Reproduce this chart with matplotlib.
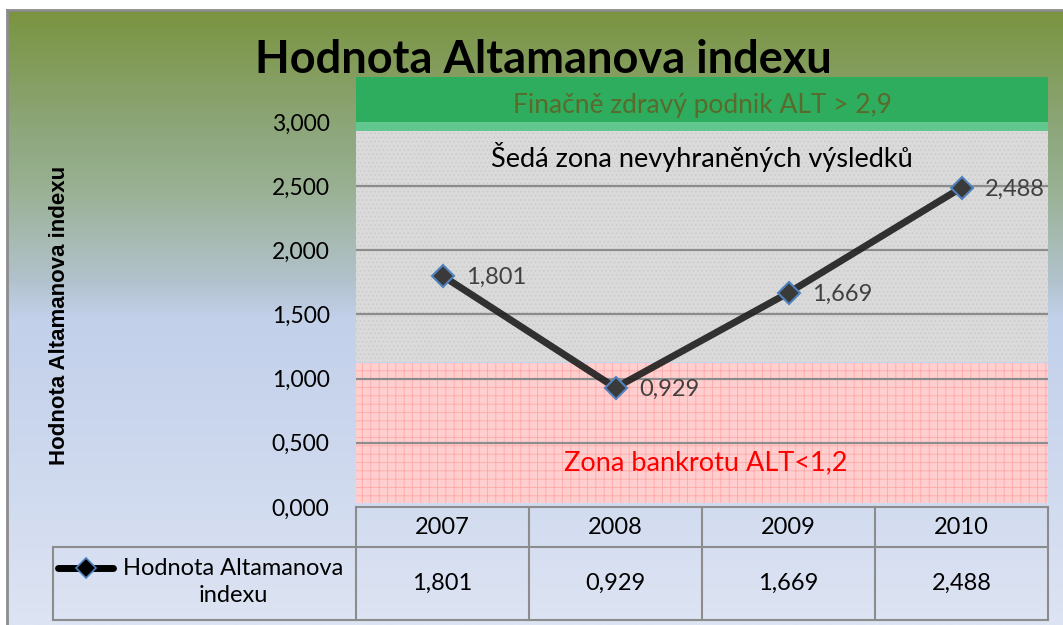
import numpy as np
import matplotlib
matplotlib.use("Agg")
import matplotlib.pyplot as plt
from matplotlib.colors import LinearSegmentedColormap

# data
years = ["2007", "2008", "2009", "2010"]
alt_index = [1.801, 0.929, 1.669, 2.488]
series_name = "Hodnota Altamanova indexu"
zone_labels = ["Finačně zdravý podnik ALT > 2,9",
               "Šedá zona nevyhraněných výsledků",
               "Zona bankrotu ALT<1,2"]

def cz(v):
    return f"{v:.3f}".replace(".", ",")

plt.rcParams['font.family'] = ['Lato', 'DejaVu Sans']
plt.rcParams['hatch.linewidth'] = 0.6

fig = plt.figure(figsize=(10.63, 6.25), dpi=100)

# background gradient (green -> light blue)
bg = fig.add_axes([7/1063, 0, 1 - 7/1063, 615/625], zorder=-5)
cmap = LinearSegmentedColormap.from_list("bg", [
    (0.0, "#7A9440"), (0.21, "#8FA880"), (0.28, "#98B090"),
    (0.44, "#B2C2CC"), (0.50, "#C2D0EA"), (0.72, "#CDD8EE"),
    (1.0, "#DDE4F3")])
bg.imshow(np.linspace(0, 1, 256).reshape(-1, 1), cmap=cmap, aspect="auto",
          extent=[0, 1, 0, 1])
bg.set_xticks([])
bg.set_yticks([])
for s in ["right", "bottom"]:
    bg.spines[s].set_visible(False)
for s in ["top", "left"]:
    bg.spines[s].set_color("#8C8C8C")
    bg.spines[s].set_linewidth(2)

# main plot area
W, H = 692.0, 430.0
ax = fig.add_axes([356/1063, (625-507)/625, W/1063, H/625])
ax.set_facecolor("none")
ax.set_xlim(-0.5, 3.5)
ax.set_ylim(0, 3.35)

# zones
ax.axhspan(3.0, 3.35, color="#2EAD5E", zorder=0.5, lw=0)
ax.axhspan(2.93, 3.0, color="#62C78F", zorder=0.5, lw=0)
ax.axhspan(1.13, 2.93, facecolor="#DADADA", edgecolor="#CACACA", hatch="....",
           zorder=0.5, lw=0)
ax.axhspan(0.03, 1.12, facecolor="#FFCFCF", edgecolor="#FFA8A8", hatch="++",
           zorder=0.5, lw=0)

ax.text(1.5, 3.125, zone_labels[0], ha="center", va="center", fontsize=19,
        color="#5A6A2C", zorder=2)
ax.text(1.5, 2.73, zone_labels[1], ha="center", va="center", fontsize=19.5,
        color="black", zorder=2)
ax.text(1.52, 0.345, zone_labels[2], ha="center", va="center", fontsize=19.5,
        color="#FF0000", zorder=2)

# grid
ax.set_yticks(np.arange(0, 3.01, 0.5))
ax.set_yticklabels([cz(v) for v in np.arange(0, 3.01, 0.5)], fontsize=16.5)
ax.tick_params(axis="y", length=0, pad=19)
ax.set_xticks([])
for t in np.arange(0.5, 2.51, 0.5):
    ax.axhline(t, color="#8C8C8C", lw=1.6, zorder=1)
for s in ax.spines.values():
    s.set_visible(False)

# series
x = np.arange(len(years))
ax.plot(x, alt_index, color="#1E1E1E", lw=5, alpha=0.9, zorder=3,
        solid_capstyle="round")
ax.plot(x, alt_index, ls="none", marker="D", ms=11, mfc="#3A3A3A",
        mec="#4F81BD", mew=1.5, zorder=4)
for xi, v in zip(x, alt_index):
    ax.annotate(cz(v), (xi, v), xytext=(17, -1), textcoords="offset points",
                ha="left", va="center", fontsize=17, color="#404040", zorder=5)

# data table under the plot (drawn in axes fraction coords)
def px(xp):
    return (xp - 356) / W

def py(yp):
    return (507 - yp) / H

tc = "#8C8C8C"
kw = dict(transform=ax.transAxes, color=tc, lw=1.5, clip_on=False, zorder=6)
ax.plot([0, 1], [py(507)] * 2, **kw)
ax.plot([px(53), 1], [py(547)] * 2, **kw)
ax.plot([px(53), 1], [py(620)] * 2, **kw)
ax.plot([px(53)] * 2, [py(547), py(620)], **kw)
for i in range(len(years) + 1):
    ax.plot([i / len(years)] * 2, [py(507), py(620)], **kw)
for i, (yr, v) in enumerate(zip(years, alt_index)):
    xc = (i + 0.5) / len(years)
    ax.text(xc, py(527), yr, transform=ax.transAxes, ha="center",
            va="center", fontsize=17)
    ax.text(xc, py(583), cz(v), transform=ax.transAxes, ha="center",
            va="center", fontsize=17)

# legend key inside the row label cell
ax.plot([px(58), px(113)], [py(568)] * 2, transform=ax.transAxes,
        color="black", lw=5, clip_on=False, zorder=6, solid_capstyle="round")
ax.plot([px(86)], [py(568)], transform=ax.transAxes, marker="D",
        ms=10, mfc="black", mec="#4F81BD", mew=1.2, clip_on=False, zorder=7)
ax.text(px(233), py(582), "Hodnota Altamanova\nindexu",
        transform=ax.transAxes, ha="center", va="center", fontsize=17,
        linespacing=1.35)

# titles
fig.text(543/1063, 1 - 60/625, series_name, ha="center", va="center",
         fontsize=32.5, fontweight="bold")
fig.text(60/1063, 1 - 315/625, series_name, ha="center", va="center",
         rotation=90, fontsize=16, fontweight="bold",
         family=["Liberation Sans", "DejaVu Sans"])

fig.savefig("out.png", dpi=100)
